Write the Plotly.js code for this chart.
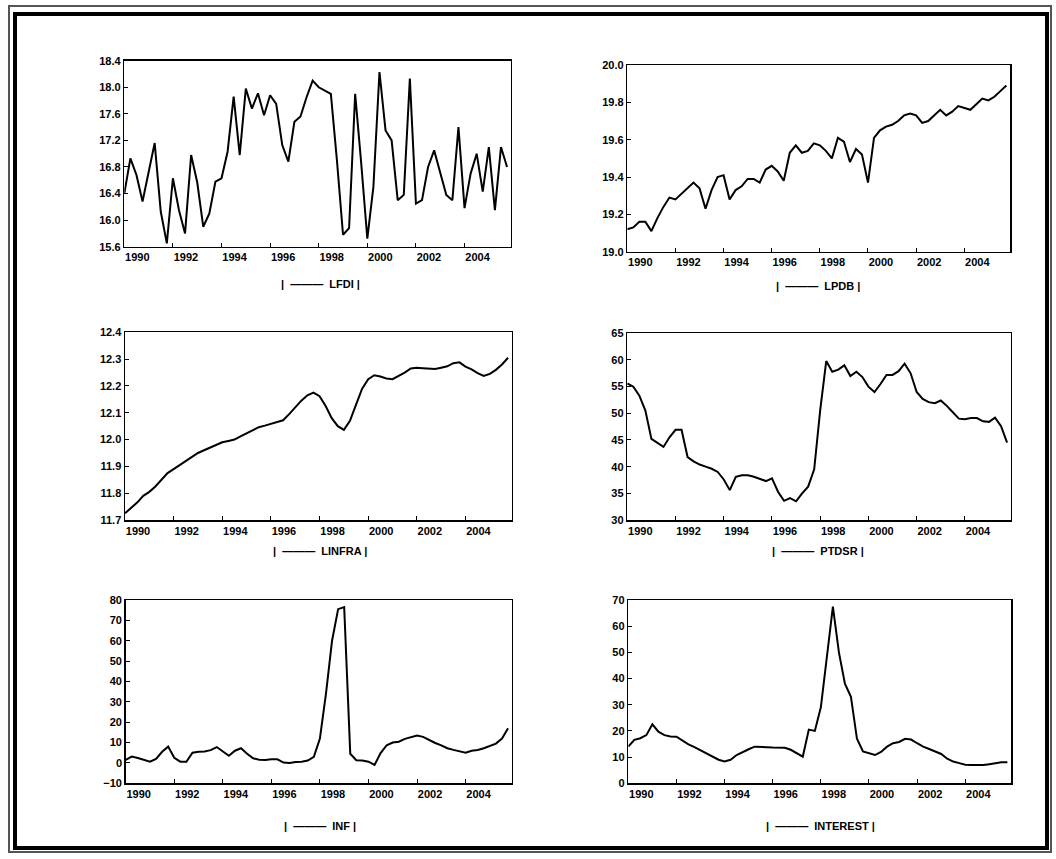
<!DOCTYPE html>
<html><head><meta charset="utf-8">
<script src="https://cdn.plot.ly/plotly-3.0.1.min.js"></script>
<style>html,body{margin:0;padding:0;background:#fff}</style>
</head><body><div id="chart" style="width:1056px;height:859px"></div>
<script>
// quarterly observations 1990Q1 .. 2005Q4
const years = [1990,1991,1992,1993,1994,1995,1996,1997,1998,1999,2000,2001,2002,2003,2004,2005];
const quarters = [];
years.forEach(y => [1,2,3,4].forEach(q => quarters.push(y + 'Q' + q)));

const lfdi = [16.40,16.93,16.68,16.28,16.72,17.16,16.13,15.65,16.63,16.15,
  15.80,16.98,16.57,15.90,16.10,16.58,16.63,17.03,17.86,16.98,
  17.98,17.68,17.91,17.58,17.88,17.75,17.13,16.88,17.48,17.56,
  17.85,18.10,18.00,17.95,17.90,16.90,15.78,15.88,17.90,16.85,
  15.72,16.50,18.23,17.35,17.20,16.30,16.38,18.13,16.25,16.30,
  16.80,17.05,16.72,16.38,16.30,17.40,16.18,16.70,17.00,16.43,
  17.10,16.15,17.10,16.80];
const lpdb = [19.12,19.13,19.16,19.16,19.11,19.18,19.24,19.29,19.28,19.31,
  19.34,19.37,19.34,19.23,19.33,19.40,19.41,19.28,19.33,19.35,
  19.39,19.39,19.37,19.44,19.46,19.43,19.38,19.53,19.57,19.53,
  19.54,19.58,19.57,19.54,19.50,19.61,19.59,19.48,19.55,19.52,
  19.37,19.61,19.65,19.67,19.68,19.70,19.73,19.74,19.73,19.69,
  19.70,19.73,19.76,19.73,19.75,19.78,19.77,19.76,19.79,19.82,
  19.81,19.83,19.86,19.89];
const linfra = [11.725,11.745,11.765,11.79,11.805,11.825,11.85,11.875,11.89,11.905,
  11.92,11.935,11.95,11.96,11.97,11.98,11.99,11.995,12.0,12.012,
  12.023,12.035,12.046,12.052,12.058,12.065,12.072,12.095,12.12,12.145,
  12.165,12.175,12.162,12.125,12.08,12.05,12.036,12.07,12.13,12.19,
  12.225,12.24,12.235,12.228,12.225,12.237,12.25,12.265,12.268,12.266,
  12.264,12.263,12.268,12.273,12.285,12.288,12.272,12.262,12.248,12.237,
  12.245,12.26,12.28,12.305];
const ptdsr = [55.6,55.0,53.3,50.5,45.2,44.4,43.7,45.5,46.9,46.9,
  41.8,41.0,40.4,40.0,39.6,39.0,37.6,35.6,38.1,38.4,
  38.4,38.1,37.7,37.3,37.8,35.3,33.6,34.1,33.5,35.0,
  36.25,39.5,50.6,59.8,57.8,58.2,59.0,57.0,57.8,56.8,
  55.0,54.0,55.5,57.2,57.2,57.9,59.3,57.5,54.0,52.7,
  52.1,51.9,52.4,51.4,50.2,49.0,48.9,49.1,49.1,48.5,
  48.4,49.2,47.6,44.5];
const inf = [1.5,3.1,2.4,1.6,0.6,2.0,5.5,8.0,2.5,0.6,
  0.6,5.0,5.5,5.6,6.3,7.8,5.5,3.5,6.0,7.2,
  4.5,2.3,1.6,1.5,1.8,1.8,0.2,0.0,0.5,0.6,
  1.2,3.0,12.0,34.0,60.0,75.5,76.5,4.5,1.3,1.2,
  0.6,-1.0,4.8,8.7,10.0,10.4,11.8,12.7,13.4,12.8,
  11.2,9.8,8.6,7.2,6.4,5.6,5.0,6.0,6.4,7.2,
  8.3,9.5,12.0,17.0];
const interest = [14.0,16.6,17.2,18.4,22.5,19.7,18.4,17.9,17.8,16.2,
  14.9,13.8,12.6,11.5,10.3,9.0,8.3,9.0,10.8,12.0,
  13.0,14.0,14.0,13.8,13.7,13.7,13.6,12.8,11.4,10.2,
  20.5,20.0,29.0,48.0,67.5,50.0,38.0,33.0,17.0,12.2,
  11.6,10.8,12.0,14.0,15.3,15.8,17.0,16.7,15.3,14.0,
  13.1,12.2,11.2,9.4,8.3,7.7,7.1,7.0,7.0,7.0,
  7.3,7.7,8.0,8.0];

const seriesNames = ['LFDI','LPDB','LINFRA','PTDSR','INF','INTEREST'];
const seriesData = [lfdi, lpdb, linfra, ptdsr, inf, interest];
const yRanges = [[15.6,18.4],[19.0,20.0],[11.7,12.4],[30,65],[-10,80],[0,70]];
const yDticks = [0.4,0.2,0.1,5,10,10];
const yFormats = ['.1f','.1f','.1f','d','d','d'];

// x position of each quarter in decimal years
const xq = quarters.map(s => parseInt(s.slice(0,4)) + (parseInt(s.slice(5)) - 1) / 4);

const W = 1056, H = 859;
// panel boxes in pixels [left, right, top, bottom]
const boxes = [
  [124.3, 510.7, 60.7, 246.7],
  [627.3, 1010.0, 65.0, 251.7],
  [125.0, 511.7, 332.3, 520.0],
  [627.3, 1010.7, 333.3, 520.0],
  [125.7, 511.7, 600.0, 783.3],
  [628.3, 1011.0, 600.0, 783.3]
];
const legendPos = [[320,284],[818,286],[320,551],[818,551],[320,826],[820,826]];

const font = {family: 'Liberation Sans, Arial, sans-serif', size: 11, color: '#000', weight: 'bold'};
const traces = [];
const layout = {
  width: W, height: H,
  margin: {l:0, r:0, t:0, b:0},
  paper_bgcolor: '#fff', plot_bgcolor: '#fff',
  showlegend: false,
  font: font,
  annotations: [],
  shapes: []
};

seriesData.forEach((vals, k) => {
  const n = k === 0 ? '' : String(k + 1);
  traces.push({
    x: xq, y: vals, type: 'scatter', mode: 'lines',
    xaxis: 'x' + n, yaxis: 'y' + n,
    line: {color: '#000', width: 2},
    name: seriesNames[k], hoverinfo: 'x+y'
  });
  const b = boxes[k];
  const common = {
    showline: true, linecolor: '#000', linewidth: 1.5, mirror: true,
    ticks: 'inside', ticklen: 4, tickcolor: '#000', tickwidth: 1,
    showgrid: false, zeroline: false, tickfont: font, fixedrange: true
  };
  layout['xaxis' + n] = Object.assign({}, common, {
    domain: [b[0] / W, b[1] / W], anchor: 'y' + n,
    range: [1990, 2005.9], tickmode: 'linear', tick0: 1990, dtick: 2,
    tickformat: 'd', ticklabelshift: 13
  });
  layout['yaxis' + n] = Object.assign({}, common, {
    domain: [1 - b[3] / H, 1 - b[2] / H], anchor: 'x' + n,
    range: yRanges[k], tickmode: 'linear', tick0: yRanges[k][0], dtick: yDticks[k],
    tickformat: yFormats[k]
  });
  const lp = legendPos[k];
  layout.annotations.push({
    xref: 'paper', yref: 'paper', x: lp[0] / W, y: 1 - lp[1] / H,
    xanchor: 'center', yanchor: 'middle', showarrow: false,
    text: '|  \u2014\u2014\u2014  ' + seriesNames[k] + ' |',
    font: {family: 'Liberation Sans, Arial, sans-serif', size: 11, color: '#000', weight: 'bold'}
  });
});

// page frame
layout.shapes.push({type:'rect', xref:'paper', yref:'paper',
  x0: 9/W, x1: 1051/W, y0: 1 - 852/H, y1: 1 - 6/H,
  line:{color:'#555', width:2}, fillcolor:'rgba(0,0,0,0)'});
layout.shapes.push({type:'rect', xref:'paper', yref:'paper',
  x0: 15/W, x1: 1047/W, y0: 1 - 848/H, y1: 1 - 14/H,
  line:{color:'#000', width:4}, fillcolor:'rgba(0,0,0,0)'});

Plotly.newPlot('chart', traces, layout, {staticPlot: true, displayModeBar: false});
</script>
</body></html>
